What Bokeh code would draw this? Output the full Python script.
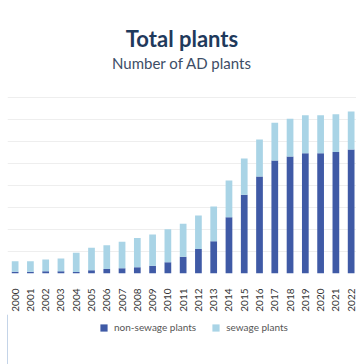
import math
from bokeh.plotting import figure
from bokeh.layouts import column
from bokeh.models import ColumnDataSource, Legend, LegendItem, Range1d, FixedTicker
from bokeh.core.properties import value
from bokeh.embed import file_html
from bokeh.resources import INLINE

years = list(range(2000, 2023))
non_sewage = [8, 8, 10, 10, 7, 15, 20, 24, 29, 35, 51, 76, 112, 147, 256, 359, 442, 514, 533, 547, 547, 553, 564]
sewage = [48, 48, 54, 58, 88, 102, 109, 121, 133, 142, 150, 151, 152, 158, 167, 164, 168, 172, 172, 173, 173, 172, 174]
year_labels = [str(y) for y in years]
series_names = ["non-sewage plants", "sewage plants"]
colors = ["#3f5aa6", "#a9d4e6"]
title_text = "Total plants"
subtitle_text = "Number of AD plants"

W = 356

# ---- header with title and subtitle ----
head = figure(width=W, height=92, output_backend="svg", toolbar_location=None,
              x_range=Range1d(0, W), y_range=Range1d(0, 92),
              min_border=0, outline_line_color=None)
head.axis.visible = False
head.grid.visible = False
head.text(x=[W / 2], y=[54], text=[title_text], text_align="center", text_baseline="middle",
          text_font=value("Lato"), text_font_size="22px", text_font_style="bold",
          text_color="#1f3a5c")
head.text(x=[W / 2], y=[30], text=[subtitle_text], text_align="center", text_baseline="middle",
          text_font=value("Lato"), text_font_size="15px", text_color="#3d4d66")

# ---- main chart ----
src = ColumnDataSource(dict(x=years, ns=non_sewage, s=sewage))

p = figure(width=W, height=222, output_backend="svg", toolbar_location=None,
           x_range=Range1d(1999.5, 2022.35), y_range=Range1d(0, 824),
           min_border_left=7, min_border_right=0, min_border_top=0, min_border_bottom=41)

r = p.vbar_stack(["ns", "s"], x="x", width=0.44, color=colors, source=src, line_color=None)

p.outline_line_color = None
p.yaxis.visible = False
p.xgrid.grid_line_color = None
p.ygrid.grid_line_color = "#eeeeee"
p.ygrid.ticker = FixedTicker(ticks=[0, 100, 200, 300, 400, 500, 600, 700, 800])

ax = p.xaxis[0]
ax.ticker = FixedTicker(ticks=years)
ax.major_label_overrides = {y: l for y, l in zip(years, year_labels)}
ax.major_label_orientation = math.pi / 2
ax.axis_line_color = None
ax.major_tick_line_color = None
ax.minor_tick_line_color = None
ax.major_label_text_font = "Lato"
ax.major_label_text_font_size = "10px"
ax.major_label_text_color = "#333333"
ax.major_label_standoff = 9

# ---- legend strip ----
leg = figure(width=W, height=50, output_backend="svg", toolbar_location=None,
             x_range=Range1d(0, 1), y_range=Range1d(0, 1), min_border=0,
             outline_line_color=None)
leg.axis.visible = False
leg.grid.visible = False
# swatch renderers for the legend (placed outside the visible range)
sw = [leg.vbar(x=[-5], top=[1], width=0.5, fill_color=c, line_color=None) for c in colors]
legend = Legend(items=[LegendItem(label=series_names[i], renderers=[sw[i]]) for i in range(2)],
                orientation="horizontal", location=(92, 31),
                label_text_font="Lato", label_text_font_size="10px", label_text_color="#555555",
                glyph_width=9, glyph_height=9, label_height=10, label_standoff=6,
                spacing=15, border_line_color=None,
                background_fill_alpha=0, margin=0, padding=0)
leg.add_layout(legend, "center")

layout = column(head, p, leg, spacing=0)
open("out.html", "w").write(file_html(layout, INLINE))
